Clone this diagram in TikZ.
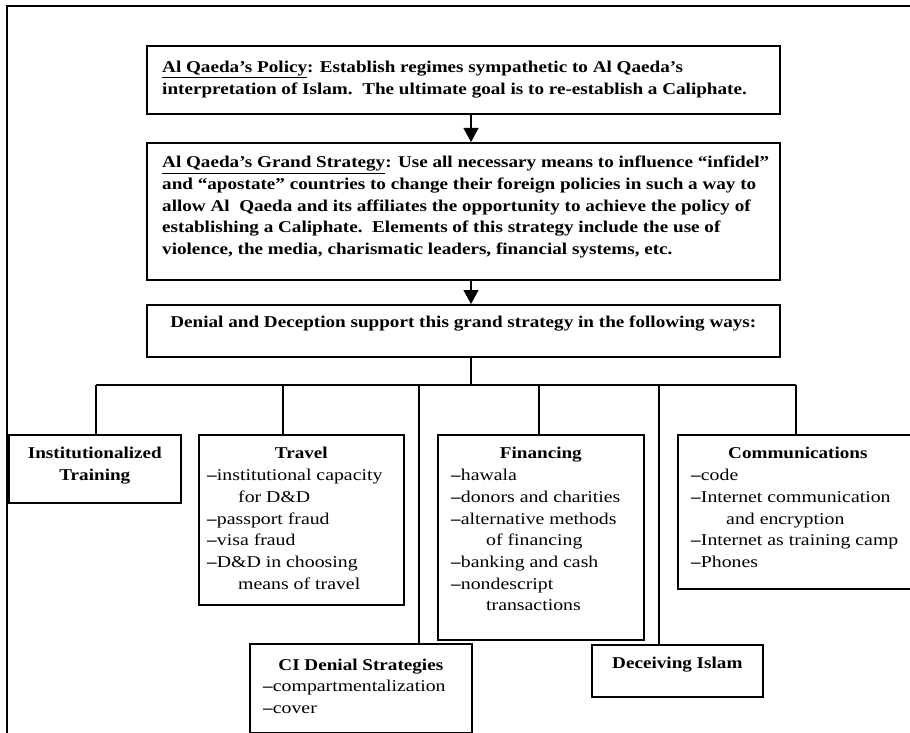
\documentclass[tikz,border=0pt]{standalone}
\usepackage{fontspec}
\setmainfont{Liberation Serif}[UprightFeatures={FakeStretch=1.2},BoldFeatures={FakeStretch=1.16}]
\usetikzlibrary{arrows.meta}
\newcommand{\mainsize}{\fontsize{16.5}{21.7}\selectfont}
\newcommand{\dd}{\textbf{–}}
\tikzset{
  box/.style={draw, line width=1.7pt, inner sep=0pt, anchor=north west},
  link/.style={line width=1.3pt},
  arr/.style={line width=1.3pt, -{Triangle[width=15pt,length=14pt]}},
  txt/.style={inner sep=0pt, font=\bfseries\mainsize, align=left, anchor=north west},
  head/.style={inner sep=0pt, font=\bfseries\mainsize, align=center, anchor=north},
  items/.style={inner sep=0pt, font=\mainsize, align=left, anchor=north west}
}

\begin{document}
\begin{tikzpicture}[x=1pt,y=-1pt]
\useasboundingbox (0,0) rectangle (910,733);
\clip (0,0) rectangle (910,733);
% outer frame (cut off at right and bottom)
\draw [line width=1.2pt] (920,6) -- (7,6) -- (7,745);

% top chain
\node [box, minimum width=633pt, minimum height=68pt] (policy) at (146,45) {};
\node [box, minimum width=633pt, minimum height=137pt] (grand) at (146,142) {};
\node [box, minimum width=633pt, minimum height=52pt] (denial) at (146,304) {};
\node [txt] at ([xshift=16pt,yshift=-16pt]policy.north west)
  {\underline{Al Qaeda’s Policy}: Establish regimes sympathetic to Al Qaeda’s\\
   interpretation of Islam.\ \ The ultimate goal is to re-establish a Caliphate.};
\node [txt] at ([xshift=16pt,yshift=-14pt]grand.north west)
  {\underline{Al Qaeda’s Grand Strategy}: Use all necessary means to influence “infidel”\\
   and “apostate” countries to change their foreign policies in such a way to\\
   allow Al\ \ Qaeda and its affiliates the opportunity to achieve the policy of\\
   establishing a Caliphate.\ \ Elements of this strategy include the use of\\
   violence, the media, charismatic leaders, financial systems, etc.};
\node [head] at ([yshift=-12pt]denial.north)
  {Denial and Deception support this grand strategy in the following ways:};

\coordinate (spine) at (471,0);
\draw [arr] (policy.south -| spine) -- (grand.north -| spine);
\draw [arr] (grand.south -| spine) -- (denial.north -| spine);

% the ways
\node [box, minimum width=172pt, minimum height=68pt] (inst) at (8,434) {};
\node [box, minimum width=205pt, minimum height=170pt] (trav) at (198,434) {};
\node [box, minimum width=206pt, minimum height=205pt] (fin) at (437,434) {};
\node [box, minimum width=240pt, minimum height=154pt] (comm) at (677,434) {};
\node [box, minimum width=222pt, minimum height=89pt] (ci) at (249,643) {};
\node [box, minimum width=171pt, minimum height=52pt] (dec) at (591,644) {};

\node [head] at ([yshift=-13pt]inst.north) {Institutionalized\\Training};
\node [head] at ([yshift=-13pt]trav.north) {Travel};
\node [items] at ([xshift=9pt,yshift=-35pt]trav.north west)
  {\dd institutional capacity\\ \hspace*{31pt}for D\&D\\ \dd passport fraud\\
   \dd visa fraud\\ \dd D\&D in choosing\\ \hspace*{31pt}means of travel};
\node [head] at ([yshift=-13pt]fin.north) {Financing};
\node [items] at ([xshift=14pt,yshift=-35pt]fin.north west)
  {\dd hawala\\ \dd donors and charities\\ \dd alternative methods\\
   \hspace*{35pt}of financing\\ \dd banking and cash\\ \dd nondescript\\
   \hspace*{35pt}transactions};
\node [head] at ([yshift=-13pt]comm.north) {Communications};
\node [items] at ([xshift=14pt,yshift=-35pt]comm.north west)
  {\dd code\\ \dd Internet communication\\ \hspace*{35pt}and encryption\\
   \dd Internet as training camp\\ \dd Phones};
\node [head] at ([yshift=-16pt]ci.north) {CI Denial Strategies};
\node [items] at ([xshift=14pt,yshift=-37pt]ci.north west)
  {\dd compartmentalization\\ \dd cover};
\node [head] at ([yshift=-13pt]dec.north) {Deceiving Islam};

% bus and drops
\coordinate (bus) at (0,385);
\draw [link] (denial.south -| spine) -- (bus -| spine);
\foreach \nd/\xx in {inst/96, trav/283, ci/419, fin/539, dec/659, comm/796}
  \coordinate (b\nd) at (\xx,385);
\draw [link] (binst) -- (bcomm);
\foreach \nd in {inst, trav, ci, fin, dec, comm}
  \draw [link] (b\nd) -- (b\nd |- \nd.north);
\end{tikzpicture}
\end{document}
